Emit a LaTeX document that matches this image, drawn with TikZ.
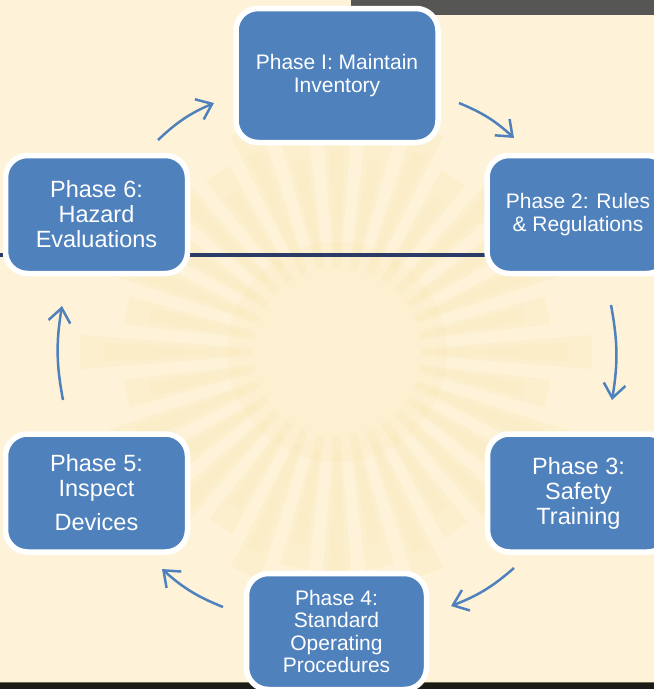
\documentclass[tikz,border=0pt]{standalone}
\usepackage{fontspec}
\setmainfont{Liberation Sans}
\usetikzlibrary{arrows.meta}
\definecolor{bgcream}{HTML}{FEF3D8}
\definecolor{raycol}{HTML}{F6DC98}
\definecolor{boxblue}{HTML}{4F81BD}
\definecolor{navy}{HTML}{2B3B68}
\definecolor{topbar}{HTML}{565654}
\definecolor{botbar}{HTML}{1C1C16}
\definecolor{botedge}{HTML}{6E6A4C}
\tikzset{
 phasebox/.style={rectangle, rounded corners=22pt, fill=boxblue, draw=white, line width=5.5pt, text=white, align=center, inner sep=0pt},
 smalltxt/.style={font=\fontsize{21}{22.5}\selectfont},
 bigtxt/.style={font=\fontsize{23.5}{25}\selectfont},
 cyclearrow/.style={draw=boxblue, line width=2.5pt, -{Straight Barb[length=14pt,width=22pt]}, bend left=10},
 rule/.style={draw=navy, line width=4.5pt},
}
\begin{document}
\begin{tikzpicture}[x=1pt,y=-1pt]
\useasboundingbox (0,0) rectangle (654,689);
\fill[bgcream] (0,0) rectangle (654,689);
% sunburst
\begin{scope}[shift={(337,352)}]
\foreach \a/\r in {0/255,11.25/215,22.5/245,33.75/205,45/250,56.25/215,67.5/240,78.75/220,90/265,101.25/220,112.5/240,123.75/210,135/250,146.25/205,157.5/240,168.75/215,180/258,191.25/215,202.5/245,213.75/205,225/250,236.25/215,247.5/240,258.75/220,270/262,281.25/220,292.5/240,303.75/210,315/250,326.25/205,337.5/240,348.75/215}{
  \fill[raycol, opacity=0.14] (\a-2.5:85) -- (\a-3.8:\r) -- (\a+3.8:\r) -- (\a+2.5:85) -- cycle;
  \fill[raycol, opacity=0.10] (\a-1.5:100) -- (\a-2.2:\r-25) -- (\a+2.2:\r-25) -- (\a+1.5:100) -- cycle;
}
\fill[raycol, opacity=0.10] (0,0) circle (110);
\end{scope}
% bars
\fill[topbar] (351,0) rectangle (654,15);
\fill[botbar] (0,682) rectangle (654,689);
\draw[botedge, line width=1pt] (0,682) -- (654,682);
% horizontal rule (behind boxes)
\coordinate (hl1) at (0,255);
\coordinate (hl2) at (487,255);
\draw[rule] (hl1) -- (hl2);
% nodes
\node[phasebox, smalltxt, minimum width=202pt, minimum height=134pt] (p1) at (337,75.5) {Phase I: Maintain\\Inventory};
\node[phasebox, smalltxt, minimum width=182pt, minimum height=118pt] (p2) at (578,214.5) {Phase 2: Rules\\\& Regulations};
\node[phasebox, bigtxt, minimum width=182pt, minimum height=118pt] (p3) at (578.5,493) {Phase 3:\\Safety\\Training};
\node[phasebox, smalltxt, minimum width=180pt, minimum height=116pt] (p4) at (336.5,631.5) {Phase 4:\\Standard\\Operating\\Procedures};
\node[phasebox, bigtxt, minimum width=182pt, minimum height=118pt] (p5) at (96.5,493) {Phase 5:\\Inspect\\[9pt]Devices};
\node[phasebox, bigtxt, minimum width=182pt, minimum height=118pt] (p6) at (96.5,214.5) {Phase 6:\\Hazard\\Evaluations};
% arrows
\coordinate (a61s) at (158,140); \coordinate (a61e) at (214,103);
\coordinate (a12s) at (459,103); \coordinate (a12e) at (514,138);
\coordinate (a23s) at (611,305); \coordinate (a23e) at (612,400);
\coordinate (a34s) at (514,568); \coordinate (a34e) at (451,606);
\coordinate (a45s) at (223,607); \coordinate (a45e) at (162,569);
\coordinate (a56s) at (63,400); \coordinate (a56e) at (62,306);
\draw[cyclearrow] (a61s) to (a61e);
\draw[cyclearrow] (a12s) to (a12e);
\draw[cyclearrow] (a23s) to (a23e);
\draw[cyclearrow] (a34s) to (a34e);
\draw[cyclearrow] (a45s) to (a45e);
\draw[cyclearrow] (a56s) to (a56e);
\end{tikzpicture}
\end{document}
